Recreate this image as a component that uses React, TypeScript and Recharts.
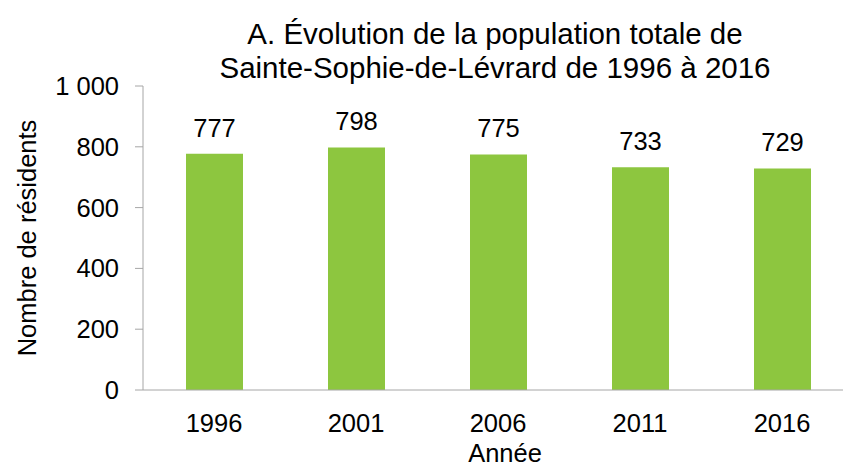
import { Bar, BarChart, Label, LabelList, XAxis, YAxis } from "recharts";

const years = ["1996", "2001", "2006", "2011", "2016"];
const residents = [777, 798, 775, 733, 729];
const yTicks = [0, 200, 400, 600, 800, 1000];
const titleLines = ["A. Évolution de la population totale de", "Sainte-Sophie-de-Lévrard de 1996 à 2016"];

const font = "'Liberation Sans', Arial, sans-serif";
const axisGray = "#a6a6a6";

const data = years.map((year, i) => ({ year, value: residents[i] }));

const fmt = (v: number) => String(v).replace(/\B(?=(\d{3})+(?!\d))/g, " ");

export default function App() {
  return (
    <div style={{ position: "absolute", left: 0, top: 0, width: 843, height: 466, background: "#fff", fontFamily: font }}>
      <div
        style={{
          position: "absolute",
          left: 150,
          top: 17,
          width: 690,
          textAlign: "center",
          fontSize: 29.5,
          lineHeight: "34px",
          color: "#000"
        }}
      >
        {titleLines.map((line) => (
          <div key={line}>{line}</div>
        ))}
      </div>
      <BarChart width={843} height={466} data={data} margin={{ top: 86, right: -10, bottom: 0, left: 0 }}>
        <XAxis
          dataKey="year"
          height={76}
          stroke={axisGray}
          tickLine={false}
          tickSize={0}
          tickMargin={24}
          tick={{ fill: "#000", fontSize: 25.5, fontFamily: font }}
        >
          <Label value="Année" position="insideBottom" offset={4} dx={7} style={{ fill: "#000", fontSize: 25.5, fontFamily: font }} />
        </XAxis>
        <YAxis
          width={143}
          domain={[0, 1000]}
          ticks={yTicks}
          tickFormatter={fmt}
          stroke={axisGray}
          tickSize={8}
          tickMargin={16}
          tick={{ fill: "#000", fontSize: 25.5, fontFamily: font }}
        >
          <Label
            value="Nombre de résidents"
            angle={-90}
            position="insideLeft"
            offset={27}
            style={{ fill: "#000", fontSize: 25.5, fontFamily: font, textAnchor: "middle" }}
          />
        </YAxis>
        <Bar dataKey="value" fill="#8dc63f" barSize={57} isAnimationActive={false}>
          <LabelList dataKey="value" position="top" offset={17} style={{ fill: "#000", fontSize: 25.5, fontFamily: font }} />
        </Bar>
      </BarChart>
    </div>
  );
}
